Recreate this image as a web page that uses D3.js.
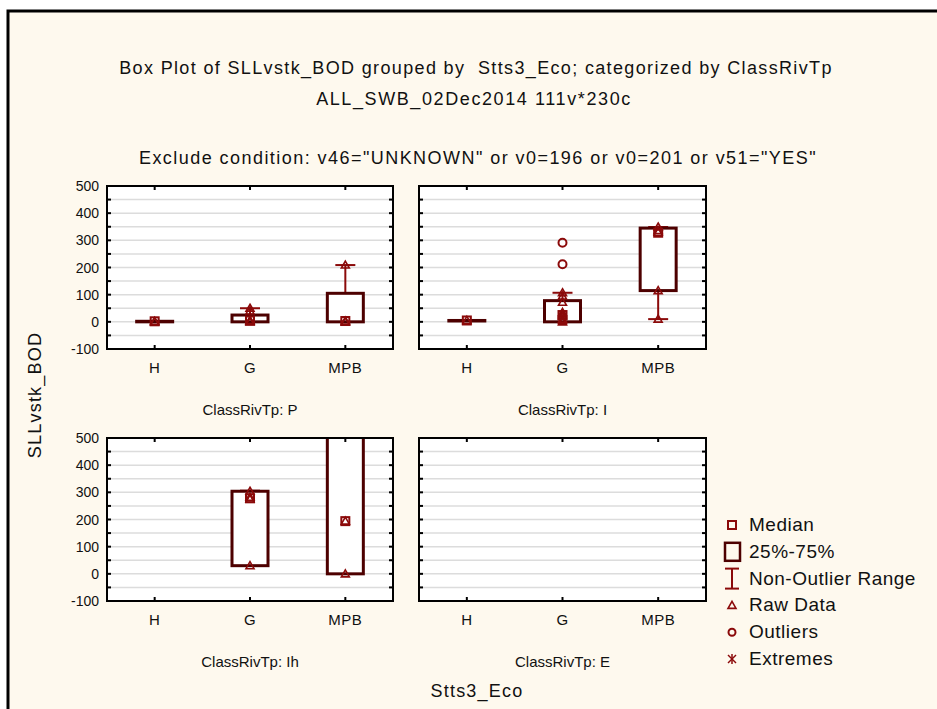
<!DOCTYPE html>
<html>
<head>
<meta charset="utf-8">
<script src="https://cdn.jsdelivr.net/npm/d3@7"></script>
<style>
  html, body { margin: 0; padding: 0; background: #ffffff; }
  svg { display: block; font-family: "Liberation Sans", Arial, sans-serif; }
</style>
</head>
<body>
<svg id="chart" width="937" height="709"></svg>
<script>
// ---------- data ----------
const titleLines = [
  "Box Plot of SLLvstk_BOD grouped by  Stts3_Eco; categorized by ClassRivTp",
  "ALL_SWB_02Dec2014 111v*230c"
];
const excludeText = 'Exclude condition: v46="UNKNOWN" or v0=196 or v0=201 or v51="YES"';
const yTitle = "SLLvstk_BOD";
const xTitle = "Stts3_Eco";
const categories = ["H", "G", "MPB"];
const panelNames = ["P", "I", "Ih", "E"];
const yTicks = [500, 400, 300, 200, 100, 0, -100];
const yDomain = [-100, 500];

// box stats per panel, per category: [whiskerLow, q1, median, q3, whiskerHigh]; null = no data
const statsP  = [[0, 0, 2, 2, 2], [0, 0, 5, 25, 50], [0, 0, 3, 105, 209]];
const statsI  = [[5, 5, 5, 5, 5], [0, 0, 25, 78, 107], [10, 115, 328, 345, 349]];
const statsIh = [null, [30, 30, 278, 304, 306], [0, 0, 194, 700, 700]];
const statsE  = [null, null, null];

// raw data values per panel, per category
const rawP  = [[0, 2], [0, 3, 5, 40, 50], [0, 3, 209]];
const rawI  = [[5], [0, 5, 10, 20, 25, 30, 35, 72, 95, 107], [10, 115, 330, 336, 349]];
const rawIh = [[], [30, 275, 282, 304], [0, 194]];
const rawE  = [[], [], []];

// outliers per panel, per category
const outP  = [[], [], []];
const outI  = [[], [212, 291], []];
const outIh = [[], [], []];
const outE  = [[], [], []];

const allStats = [statsP, statsI, statsIh, statsE];
const allRaw = [rawP, rawI, rawIh, rawE];
const allOut = [outP, outI, outIh, outE];

// ---------- styling ----------
const bg = "#fef9ee";
const boxColor = "#4d0000";
const markColor = "#8b0a0a";
const gridColor = "#dcdcdc";
const textColor = "#111";

const svg = d3.select("#chart");

// outer frame
svg.append("rect").attr("x", 8).attr("y", 11).attr("width", 1000).attr("height", 800)
  .attr("fill", bg).attr("stroke", "#000").attr("stroke-width", 3);

// titles
svg.append("text").attr("x", 476).attr("y", 74).attr("text-anchor", "middle")
  .attr("font-size", 18).attr("letter-spacing", 1.35).attr("fill", textColor)
  .style("white-space", "pre").text(titleLines[0]);
svg.append("text").attr("x", 474).attr("y", 105).attr("text-anchor", "middle")
  .attr("font-size", 18).attr("letter-spacing", 1.6).attr("fill", textColor).text(titleLines[1]);
svg.append("text").attr("x", 478).attr("y", 164).attr("text-anchor", "middle")
  .attr("font-size", 18).attr("letter-spacing", 1.45).attr("fill", textColor).text(excludeText);

// panel layout
const colX = [[107, 393], [419, 706]];
const rowY = [[186, 349], [438, 601]];

allStats.forEach((stats, pi) => {
  const col = pi % 2, row = Math.floor(pi / 2);
  const [x0, x1] = colX[col];
  const [y0, y1] = rowY[row];
  const x = d3.scalePoint().domain(categories).range([x0, x1]).padding(0.5);
  const y = d3.scaleLinear().domain(yDomain).range([y1, y0]);
  const g = svg.append("g");

  // plot area
  g.append("rect").attr("x", x0).attr("y", y0).attr("width", x1 - x0).attr("height", y1 - y0)
    .attr("fill", "#fff");

  // gridlines every 50
  const gridVals = d3.range(-50, 500, 50);
  g.selectAll(".grid").data(gridVals).join("line")
    .attr("x1", x0).attr("x2", x1).attr("y1", d => y(d)).attr("y2", d => y(d))
    .attr("stroke", gridColor).attr("stroke-width", 1.5);

  // clip
  const clipId = "clip" + pi;
  svg.append("clipPath").attr("id", clipId).append("rect")
    .attr("x", x0).attr("y", y0).attr("width", x1 - x0).attr("height", y1 - y0);
  const pg = g.append("g").attr("clip-path", `url(#${clipId})`);

  stats.forEach((s, ci) => {
    if (!s) return;
    const cx = x(categories[ci]);
    const [lo, q1, med, q3, hi] = s;
    // whisker
    pg.append("line").attr("x1", cx).attr("x2", cx).attr("y1", y(lo)).attr("y2", y(hi))
      .attr("stroke", markColor).attr("stroke-width", 2);
    [lo, hi].forEach(v => {
      pg.append("line").attr("x1", cx - 10).attr("x2", cx + 10).attr("y1", y(v)).attr("y2", y(v))
        .attr("stroke", markColor).attr("stroke-width", 2);
    });
    // box
    pg.append("rect").attr("x", cx - 18).attr("width", 36)
      .attr("y", y(q3)).attr("height", Math.max(0.5, y(q1) - y(q3)))
      .attr("fill", "#fff").attr("stroke", boxColor).attr("stroke-width", 3);
    // median
    pg.append("rect").attr("x", cx - 4).attr("y", y(med) - 4).attr("width", 8).attr("height", 8)
      .attr("fill", "none").attr("stroke", markColor).attr("stroke-width", 2);
  });

  // raw data triangles
  allRaw[pi].forEach((vals, ci) => {
    const cx = x(categories[ci]);
    pg.selectAll(null).data(vals).join("path")
      .attr("d", d => `M${cx},${y(d) - 4}L${cx + 4},${y(d) + 3}L${cx - 4},${y(d) + 3}Z`)
      .attr("fill", "none").attr("stroke", markColor).attr("stroke-width", 1.6);
  });
  // outliers
  allOut[pi].forEach((vals, ci) => {
    const cx = x(categories[ci]);
    pg.selectAll(null).data(vals).join("circle")
      .attr("cx", cx).attr("cy", d => y(d)).attr("r", 4)
      .attr("fill", "none").attr("stroke", markColor).attr("stroke-width", 2);
  });

  // ticks (inward)
  const tickVals = d3.range(-100, 501, 50);
  g.selectAll(".tl").data(tickVals).join("line")
    .attr("x1", x0).attr("x2", x0 + 4).attr("y1", d => y(d)).attr("y2", d => y(d))
    .attr("stroke", "#000").attr("stroke-width", 2);
  g.selectAll(".tr").data(tickVals).join("line")
    .attr("x1", x1 - 4).attr("x2", x1).attr("y1", d => y(d)).attr("y2", d => y(d))
    .attr("stroke", "#000").attr("stroke-width", 2);
  g.selectAll(".tt").data(categories).join("line")
    .attr("x1", d => x(d)).attr("x2", d => x(d)).attr("y1", y0).attr("y2", y0 + 4)
    .attr("stroke", "#000").attr("stroke-width", 2);
  g.selectAll(".tb").data(categories).join("line")
    .attr("x1", d => x(d)).attr("x2", d => x(d)).attr("y1", y1 - 4).attr("y2", y1)
    .attr("stroke", "#000").attr("stroke-width", 2);

  // border
  g.append("rect").attr("x", x0).attr("y", y0).attr("width", x1 - x0).attr("height", y1 - y0)
    .attr("fill", "none").attr("stroke", "#000").attr("stroke-width", 2);

  // y tick labels (left column only)
  if (col === 0) {
    g.selectAll(".yl").data(yTicks).join("text")
      .attr("x", x0 - 8).attr("y", d => y(d) + 5).attr("text-anchor", "end")
      .attr("font-size", 14).attr("fill", textColor).text(d => d);
  }
  // category labels
  g.selectAll(".xl").data(categories).join("text")
    .attr("x", d => x(d)).attr("y", y1 + 24).attr("text-anchor", "middle")
    .attr("font-size", 15).attr("letter-spacing", 0.5).attr("fill", textColor).text(d => d);
  // panel label
  g.append("text").attr("x", (x0 + x1) / 2).attr("y", y1 + 66).attr("text-anchor", "middle")
    .attr("font-size", 15).attr("fill", textColor).text("ClassRivTp: " + panelNames[pi]);
});

// axis titles
svg.append("text").attr("transform", "translate(41,395) rotate(-90)").attr("text-anchor", "middle")
  .attr("font-size", 18).attr("letter-spacing", 1.2).attr("fill", textColor).text(yTitle);
svg.append("text").attr("x", 477).attr("y", 697).attr("text-anchor", "middle")
  .attr("font-size", 18).attr("letter-spacing", 1.2).attr("fill", textColor).text(xTitle);

// legend
const legendItems = ["Median", "25%-75%", "Non-Outlier Range", "Raw Data", "Outliers", "Extremes"];
const lg = svg.append("g");
legendItems.forEach((t, i) => {
  const cy = 525 + i * 26.8;
  const mx = 732;
  if (i === 0) {
    lg.append("rect").attr("x", mx - 4).attr("y", cy - 4).attr("width", 8).attr("height", 8)
      .attr("fill", "none").attr("stroke", markColor).attr("stroke-width", 2);
  } else if (i === 1) {
    lg.append("rect").attr("x", mx - 7).attr("y", cy - 9).attr("width", 15).attr("height", 18)
      .attr("fill", "none").attr("stroke", boxColor).attr("stroke-width", 2.5);
  } else if (i === 2) {
    lg.append("line").attr("x1", mx).attr("x2", mx).attr("y1", cy - 10).attr("y2", cy + 10)
      .attr("stroke", markColor).attr("stroke-width", 2);
    [cy - 10, cy + 10].forEach(v => lg.append("line").attr("x1", mx - 7).attr("x2", mx + 7)
      .attr("y1", v).attr("y2", v).attr("stroke", markColor).attr("stroke-width", 2));
  } else if (i === 3) {
    lg.append("path").attr("d", `M${mx},${cy - 4}L${mx + 4},${cy + 3}L${mx - 4},${cy + 3}Z`)
      .attr("fill", "none").attr("stroke", markColor).attr("stroke-width", 1.6);
  } else if (i === 4) {
    lg.append("circle").attr("cx", mx).attr("cy", cy).attr("r", 3.5)
      .attr("fill", "none").attr("stroke", markColor).attr("stroke-width", 2);
  } else {
    [[-4, -4, 4, 4], [4, -4, -4, 4], [0, -5, 0, 5]].forEach(([a, b, c, d]) =>
      lg.append("line").attr("x1", mx + a).attr("y1", cy + b).attr("x2", mx + c).attr("y2", cy + d)
        .attr("stroke", markColor).attr("stroke-width", 1.5));
  }
  lg.append("text").attr("x", 749).attr("y", cy + 6).attr("font-size", 19)
    .attr("letter-spacing", 0.5).attr("fill", textColor).text(t);
});
</script>
</body>
</html>
